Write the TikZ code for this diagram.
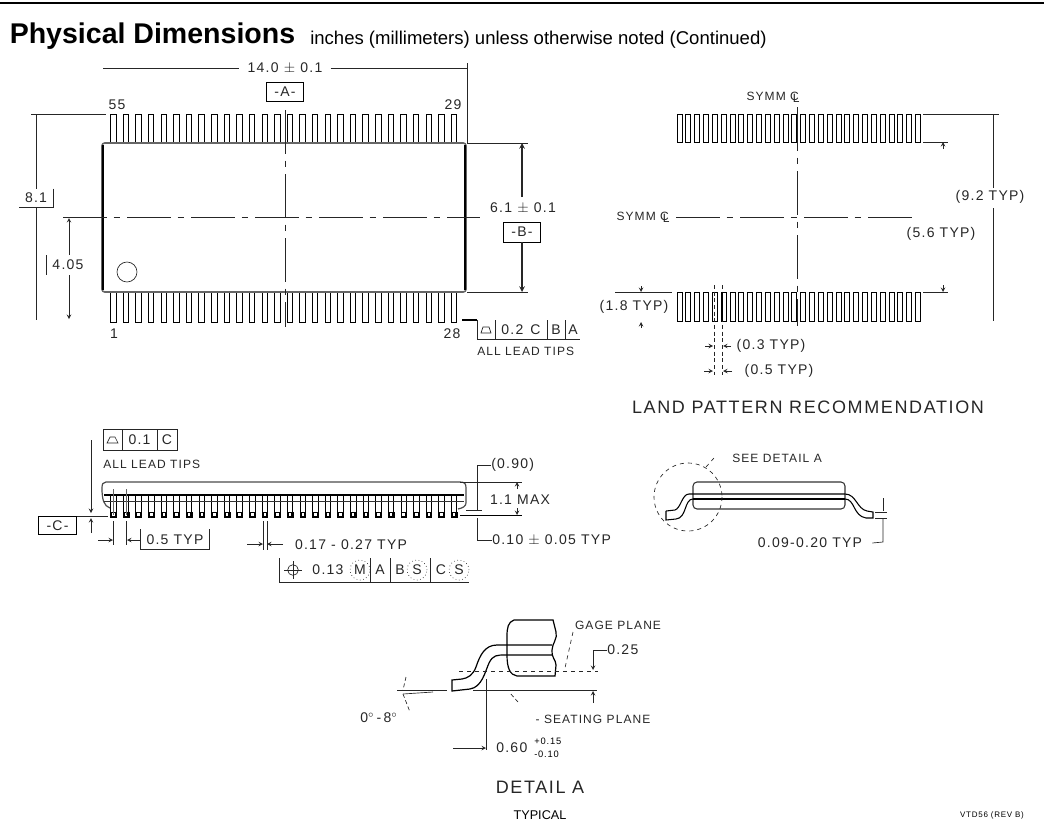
\documentclass[tikz,border=0pt]{standalone}
\usepackage{xcolor}
\usepackage{amsmath}
\usepackage{fontspec}
\usepackage{tikz}
\setmainfont{Liberation Sans}
\newfontfamily\cadfont[LetterSpace=9]{Liberation Sans}
\newcommand{\clsym}{C\kern-0.5em\raisebox{-0.3ex}{L}}
\tikzset{
    dimtext/.style={font=\cadfont\fontsize{10.5}{12}\selectfont, text=black!85, inner sep=0pt},
    smalltext/.style={font=\cadfont\fontsize{9}{10}\selectfont, text=black!85, inner sep=0pt},
    bigtext/.style={font=\cadfont\fontsize{13.5}{15}\selectfont, text=black!85, inner sep=0pt},
    dimline/.style={line width=0.5pt, black!85},
    arrowline/.style={dimline, ->, >=stealth},
    outline/.style={line width=0.65pt, black},
    centerline/.style={line width=0.5pt, black!85, dash pattern=on 33pt off 5pt on 5pt off 5pt},
    framebox/.style={draw, line width=0.6pt, dimtext, minimum width=28pt, minimum height=14pt}
}
\begin{document}
\begin{tikzpicture}[x=0.75pt, y=-0.75pt]
    \useasboundingbox (0,0) rectangle (1044,835);

    % Header
    \coordinate (ruleleft) at (0,3);
    \coordinate (ruleright) at (1044,3);
    \draw[line width=1.6pt] (ruleleft) -- (ruleright);
    \node[anchor=base west, inner sep=0pt, font=\bfseries\fontsize{21.4}{25}\selectfont] (title) at (9.5,43) {Physical Dimensions};
    \node[anchor=base west, inner sep=0pt, font=\fontsize{13.9}{16}\selectfont] (subtitle) at (310,44) {inches (millimeters) unless otherwise noted (Continued)};

    % Top view: leads
    \foreach \i in {0,...,27} {
        \pgfmathsetmacro{\lx}{110.5+12.62*\i}
        \draw[outline] (\lx,143) |- (\lx+5.5,114) -- (\lx+5.5,143);
        \draw[outline] (\lx,292) |- (\lx+5.5,322) -- (\lx+5.5,292);
    }
    % Top view: body
    \draw[line width=1.2pt, black!60, rounded corners=2pt] (102,143) rectangle (466,292);
    \draw[line width=1.3pt] (103,145) -- (103,290);
    \draw[line width=1.3pt] (465,145) -- (465,290);
    \draw[centerline] (285,110) -- (285,327);
    \draw[centerline] (63,217) -- (480,217);
    \node[draw, circle, dimline, minimum size=15pt, inner sep=0pt] (pinmark) at (127,272) {};
    \node[dimtext] (pinA) at (117,105) {55};
    \node[dimtext] (pinB) at (453,105) {29};
    \node[dimtext] (pinC) at (114,334) {1};
    \node[dimtext] (pinD) at (452,334) {28};

    % Length
    \node[dimtext, inner xsep=6pt] (lenlabel) at (285,68) {14.0 $\pm$ 0.1};
    \coordinate (lenleft) at (103,68);
    \coordinate (lenright) at (467,68);
    \coordinate (lenfoot) at (467,143);
    \draw[dimline] (lenleft) -- (lenlabel);
    \draw[dimline] (lenlabel) -- (lenright);
    \draw[dimline] (467,63) -- (lenfoot);
    \node[framebox] (datumA) at (285,92) {-A-};

    % Overall width
    \node[dimtext, minimum width=25pt, minimum height=13.5pt] (widelabel) at (36,198) {8.1};
    \coordinate (widetop) at (36,114);
    \coordinate (widebot) at (36,320);
    \draw[dimline] (widelabel.north) -- (widetop);
    \draw[dimline] (widelabel.south) -- (widebot);
    \draw[dimline] (widelabel.north east) -- (widelabel.south east) -- (widelabel.south west);
    \draw[dimline] (31,114) -- (106,114);

    % Half width
    \node[dimtext] (halflabel) at (68,265) {4.05};
    \coordinate (halftop) at (69,218);
    \coordinate (halfbot) at (69,319);
    \draw[arrowline] (69,255) -- (halftop);
    \draw[arrowline] (69,275) -- (halfbot);
    \draw[dimline] (46,255) -- (46,275);

    % Body width
    \node[dimtext] (bodylabel) at (523,208) {6.1 $\pm$ 0.1};
    \node[framebox, minimum height=15pt] (datumB) at (522,232) {-B-};
    \coordinate (bodytop) at (522,143);
    \coordinate (bodybot) at (522,292);
    \draw[arrowline, line width=0.9pt] (522,197) -- (bodytop);
    \draw[arrowline, line width=0.9pt] (datumB) -- (bodybot);
    \draw[dimline] (467,143) -- (528,143);
    \draw[dimline] (467,292) -- (528,292);

    % Lead tips tolerance
    \draw[line width=0.9pt] (462,320) -- (477,320);
    \draw[dimline] (477,320) -- (477,339) -- (580,339);
    \foreach \sx in {495,547,565} {
        \draw[dimline] (\sx,320) -- (\sx,339);
    }
    \draw[dimline] (481,333) -- (491,333) -- (489,327) -- (483,327) -- cycle;
    \node[dimtext] (tolA) at (521,330) {0.2\enspace C};
    \node[dimtext] (tolB) at (556,330) {B};
    \node[dimtext] (tolC) at (573,330) {A};
    \node[smalltext, anchor=west] (tolnote) at (477,351) {ALL LEAD TIPS};

    % Land pattern: pads
    \foreach \i in {0,...,27} {
        \pgfmathsetmacro{\px}{677+8.83*\i}
        \draw[outline] (\px,114) rectangle (\px+5,142);
        \draw[outline] (\px,292) rectangle (\px+5,321);
    }
    \draw[centerline] (797,107) -- (797,326);
    \draw[centerline] (676,217) -- (916,217);
    \node[smalltext] (symmtop) at (773,97) {SYMM \clsym};
    \node[smalltext] (symmleft) at (643,217) {SYMM \clsym};

    % Land pattern: dimensions
    \node[dimtext, inner ysep=5pt] (spanlabel) at (990,197) {(9.2 TYP)};
    \coordinate (spantop) at (993,114);
    \coordinate (spanbot) at (993,321);
    \draw[dimline] (993,188) -- (spantop);
    \draw[dimline] (993,208) -- (spanbot);
    \draw[dimline] (923,114) -- (999,114);
    \draw[dimline] (923,142) -- (948,142);
    \draw[dimline] (923,292) -- (948,292);
    \draw[arrowline] (943,149) -- (943,142);
    \draw[arrowline] (943,285) -- (943,292);
    \node[dimtext] (gaplabel) at (941,234) {(5.6 TYP)};
    \node[dimtext] (padlabel) at (634,307) {(1.8 TYP)};
    \draw[dimline] (615,292) -- (672,292);
    \draw[arrowline] (641,286) -- (641,292);
    \draw[arrowline] (641,328) -- (641,322);
    \draw[dimline, densely dashed] (714,285) -- (714,375);
    \draw[dimline, densely dashed] (722,285) -- (722,375);
    \draw[line width=1.2pt] (722,292) -- (722,321);
    \node[dimtext] (padwide) at (771,346) {(0.3 TYP)};
    \node[dimtext] (padpitch) at (779,371) {(0.5 TYP)};
    \draw[arrowline] (705,346) -- (713,346);
    \draw[arrowline] (731,346) -- (723,346);
    \draw[arrowline] (704,371) -- (713,371);
    \draw[arrowline] (732,371) -- (723,371);
    \node[bigtext] (landtitle) at (808,407) {LAND PATTERN RECOMMENDATION};

    % Side view: body
    \draw[line width=0.9pt, black!70] (110,508) .. controls (104,506) and (102,500) .. (102,488) .. controls (102,484) and (103,482) .. (106,482) -- (460,482) .. controls (465,482) and (466,484) .. (466,488) -- (466,503) .. controls (466,506) and (463,508) .. (458,509);
    % Side view: leads
    \foreach \i in {0,...,27} {
        \pgfmathsetmacro{\lx}{110.7+12.62*\i}
        \draw[line width=0.7pt, black, fill=white] (\lx,495) rectangle (\lx+5.5,517);
        \draw[fill=black] (\lx,512) rectangle (\lx+5.5,517);
        \fill[white] (\lx+1.5,513) rectangle (\lx+4,516);
    }
    \draw[line width=0.8pt, black] (104,495) -- (464,495);
    \draw[line width=0.7pt, black!80] (104,501) -- (464,501);
    \draw[dimline] (460,482) -- (522,482);
    \draw[line width=1.1pt] (460,515.5) -- (522,515.5);
    \draw[dimline] (466,510) -- (482,510);
    \draw[dimline] (77,516) -- (108,516);
    \draw[black!60, line width=0.9pt] (113.5,489) -- (113.5,515);
    \draw[black!60, line width=0.9pt] (126.7,489) -- (126.7,515);
    \draw[dimline] (113.5,521) -- (113.5,545);
    \draw[dimline] (126.7,521) -- (126.7,545);
    \node[framebox, minimum width=28pt, minimum height=14pt] (datumC) at (57.5,525.5) {-C-};
    \coordinate (datumtop) at (91,513);
    \coordinate (datumbot) at (91,518);
    \draw[arrowline] (91,440) -- (datumtop);
    \draw[arrowline] (91,533) -- (datumbot);

    % Side view: coplanarity
    \draw[dimline] (103,429) rectangle (177,450);
    \draw[dimline] (122,429) -- (122,450);
    \draw[dimline] (157,429) -- (157,450);
    \draw[dimline] (107,443) -- (118,443) -- (115,437) -- (110,437) -- cycle;
    \node[dimtext] (copA) at (139.5,440) {0.1};
    \node[dimtext] (copB) at (167,440) {C};
    \node[smalltext, anchor=west] (copnote) at (103,464) {ALL LEAD TIPS};

    % Side view: pitch
    \node[dimtext] (pitchlabel) at (175,540) {0.5 TYP};
    \coordinate (pitchA) at (113,540);
    \coordinate (pitchB) at (127,540);
    \draw[arrowline] (98,540) -- (pitchA);
    \draw[arrowline] (140,540) -- (pitchB);
    \draw[dimline] (140,529) |- (209,549) -- (209,529);

    % Side view: lead width
    \node[dimtext] (widthlabel) at (351,545) {0.17 - 0.27 TYP};
    \draw[dimline] (263,521) -- (263,550);
    \draw[dimline] (267,521) -- (267,550);
    \coordinate (widthA) at (263,544);
    \coordinate (widthB) at (267,544);
    \draw[arrowline] (247,544) -- (widthA);
    \draw[arrowline] (283,544) -- (widthB);

    % Side view: position tolerance
    \draw[dimline] (279,558) |- (469,582);
    \foreach \sx in {370,390,430} {
        \draw[dimline] (\sx,558) -- (\sx,582);
    }
    \node[draw, circle, dimline, minimum size=8pt, inner sep=0pt] (crosshair) at (293,570) {};
    \draw[dimline] (284,570) -- (302,570);
    \draw[dimline] (293,561) -- (293,579);
    \node[dimtext] (posvalue) at (328,570) {0.13};
    \node[dimtext] (posM) at (360,570) {M};
    \node[dimtext] (posA) at (380,570) {A};
    \node[dimtext] (posB) at (400,570) {B};
    \node[dimtext] (posS) at (417,570) {S};
    \node[dimtext] (posC) at (441,570) {C};
    \node[dimtext] (posT) at (459,570) {S};
    \foreach \cx in {posM,posS,posT} {
        \node[draw, circle, dotted, dimline, minimum size=15pt, inner sep=0pt] at (\cx) {};
    }

    % Side view: height
    \node[dimtext, anchor=west] (heightA) at (491,465) {(0.90)};
    \node[dimtext] (heightB) at (520,500) {1.1 MAX};
    \node[dimtext, anchor=west] (standoff) at (492,540) {0.10 $\pm$ 0.05 TYP};
    \draw[dimline] (heightA.west) -- (477,465) -- (477,510);
    \draw[dimline] (standoff.west) -- (477,540) -- (477,518);
    \coordinate (heighttop) at (517,482);
    \coordinate (heightbot) at (517,515);
    \draw[arrowline] (517,489) -- (heighttop);
    \draw[arrowline] (517,508) -- (heightbot);

    % End view
    \draw[line width=0.8pt, black!80, rounded corners=3pt] (693,482) rectangle (845,509);
    \draw[line width=0.8pt] (666,511) -- (675,510) .. controls (681,508) and (682,494) .. (689,494) -- (845,494) .. controls (856,494) and (857,509) .. (867,511) -- (873,512) -- (873,518) -- (866,518) .. controls (853,516) and (855,499) .. (845,499);
    \draw[line width=0.8pt] (666,511) -- (666,520) -- (676,519) .. controls (687,518) and (684,499) .. (693,499);
    \draw[line width=1.1pt] (693,499) -- (845,499);
    \draw[dimline, dashed] (688,497) circle [radius=34];
    \node[smalltext] (seelabel) at (777,458) {SEE DETAIL A};
    \coordinate (seefoot) at (706,467);
    \draw[dimline, dashed] (seelabel.west) ++(-18,0) -- (seefoot);
    \node[dimtext] (thicklabel) at (810,543) {0.09-0.20 TYP};
    \draw[dimline] (thicklabel.east) ++(10,0) -- (883,542) -- (883,519);
    \draw[dimline] (883,498) -- (883,511);
    \draw[dimline] (875,512) -- (887,512);
    \draw[dimline] (875,518) -- (887,518);

    % Detail A
    \draw[line width=0.9pt] (553,620) -- (514,620) .. controls (508,622) and (507,628) .. (507,636) -- (507,655) .. controls (507,668) and (510,675) .. (517,676) -- (555,676) -- (556,665) .. controls (556,660) and (551,657) .. (552,650) .. controls (552,644) and (558,638) .. (556,632) -- cycle;
    \draw[line width=0.9pt] (552,645) -- (497,645) .. controls (485,645) and (480,655) .. (476,667) .. controls (473,675) and (468,678) .. (462,679) -- (452,680) -- (452,691) -- (470,689) .. controls (482,687) and (485,672) .. (489,663) .. controls (493,655) and (497,655) .. (505,655) -- (552,655);
    \draw[dimline, dashed] (459,671) -- (598,671);
    \draw[dimline] (473,690) -- (597,690);
    \draw[dimline] (397,690) -- (447,690);
    \draw[dimline] (433,692) -- (403,694);
    \draw[dimline, densely dashed] (406,677) -- (403,690);
    \draw[dimline, densely dashed] (403,694) -- (410,712);
    \node[smalltext] (gagelabel) at (618,625) {GAGE PLANE};
    \coordinate (gagefoot) at (565,668);
    \draw[dimline, dashed] (573,632) -- (gagefoot);
    \node[dimtext, anchor=west] (gagevalue) at (607,650) {0.25};
    \coordinate (gagetop) at (593,670);
    \coordinate (gagebot) at (593,691);
    \draw[arrowline] (gagevalue.west) -- (593,650) -- (gagetop);
    \draw[arrowline] (593,703) -- (gagebot);
    \node[smalltext] (seatlabel) at (593,719) {- SEATING PLANE};
    \coordinate (seatfoot) at (510,693);
    \draw[dimline, densely dashed] (518,702) -- (seatfoot);
    \node[dimtext, anchor=west] (reachlabel) at (496,748) {0.60};
    \node[inner sep=0pt, font=\cadfont\fontsize{7}{8}\selectfont, anchor=west] (reachhigh) at (534,741.5) {+0.15};
    \node[inner sep=0pt, font=\cadfont\fontsize{7}{8}\selectfont, anchor=west] (reachlow) at (534,754) {-0.10};
    \coordinate (reachfoot) at (486,748);
    \draw[dimline] (486,679) -- (486,750);
    \draw[arrowline] (453,748) -- (reachfoot);
    \node[dimtext] (anglelabel) at (379,718) {0$^\circ$\,-\,8$^\circ$};
    \node[bigtext] (detailtitle) at (540,787) {DETAIL A};
    \node[inner sep=0pt, font=\fontsize{9.5}{11}\selectfont] (typical) at (540,815) {TYPICAL};
    \node[inner sep=0pt, font=\cadfont\fontsize{6}{7}\selectfont] (revision) at (992,815) {VTD56 (REV B)};
\end{tikzpicture}
\end{document}
